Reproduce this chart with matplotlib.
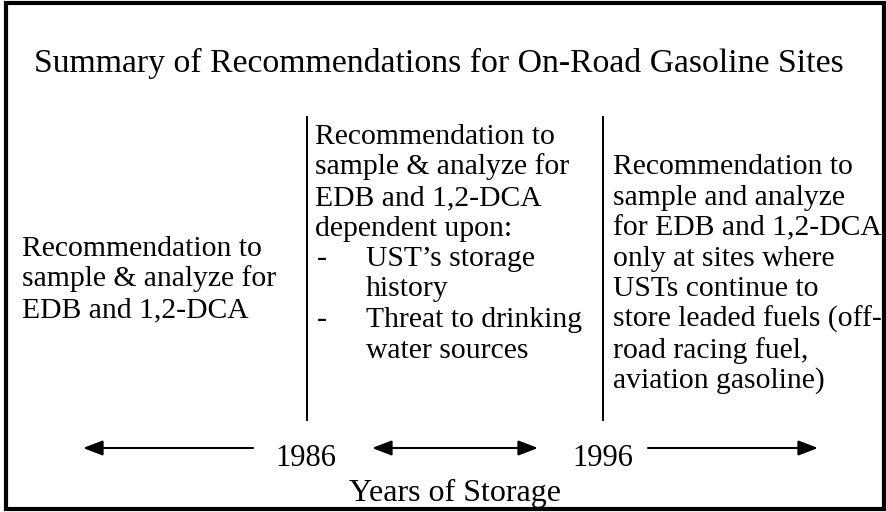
import matplotlib.pyplot as plt
from matplotlib.patches import Rectangle

# 文字内容
title = "Summary of Recommendations for On-Road Gasoline Sites"
col1 = ["Recommendation to", "sample & analyze for", "EDB and 1,2-DCA"]
col2 = ["Recommendation to", "sample & analyze for", "EDB and 1,2-DCA",
        "dependent upon:"]
col2_bullets = [["UST\u2019s storage", "history"],
                ["Threat to drinking", "water sources"]]
col3 = ["Recommendation to", "sample and analyze", "for EDB and 1,2-DCA",
        "only at sites where", "USTs continue to", "store leaded fuels (off-",
        "road racing fuel,", "aviation gasoline)"]
years = ["1986", "1996"]
axis_label = "Years of Storage"

W, H = 887, 512
fig = plt.figure(figsize=(W / 100, H / 100), dpi=100)
ax = fig.add_axes([0, 0, 1, 1])
ax.set_xlim(0, W)
ax.set_ylim(H, 0)
ax.axis("off")

font = "Liberation Serif"
fs = 21.3
step = 30.5

# 外框
ax.add_patch(Rectangle((6, 3), 878, 506, fill=False, lw=3, ec="black"))

# 标题
ax.text(439, 72, title, fontsize=24.3, family=font, ha="center", va="baseline")

# 分隔线
ax.plot([307, 307], [117, 420], color="black", lw=1.4)
ax.plot([603, 603], [117, 420], color="black", lw=1.4)

# 第一列
for i, s in enumerate(col1):
    ax.text(22, 256 + i * step, s, fontsize=fs, family=font, va="baseline")

# 第二列
y = 144
for s in col2:
    ax.text(315, y, s, fontsize=fs, family=font, va="baseline")
    y += step
for group in col2_bullets:
    ax.text(317, y, "-", fontsize=fs, family=font, va="baseline")
    for s in group:
        ax.text(366, y, s, fontsize=fs, family=font, va="baseline")
        y += step

# 第三列（比第二列低一行）
for i, s in enumerate(col3):
    ax.text(613, 144 + (i + 1) * step, s, fontsize=fs,
            family=font, va="baseline")

# 时间轴箭头
head = "head_length=0.6,head_width=0.23"
arr = dict(arrowstyle="-|>," + head, color="black", lw=1.5,
           shrinkA=0, shrinkB=0, mutation_scale=20)
ax.annotate("", xy=(83, 448), xytext=(253, 448), arrowprops=arr)
ax.annotate("", xy=(372, 448), xytext=(538, 448),
            arrowprops=dict(arr, arrowstyle="<|-|>," + head))
ax.annotate("", xy=(818, 448), xytext=(648, 448), arrowprops=arr)

ax.text(306, 466, years[0], fontsize=22, family=font, ha="center", va="baseline")
ax.text(603, 466, years[1], fontsize=22, family=font, ha="center", va="baseline")
ax.text(455, 501, axis_label, fontsize=23, family=font, ha="center", va="baseline")

fig.savefig("out.png", dpi=100)
